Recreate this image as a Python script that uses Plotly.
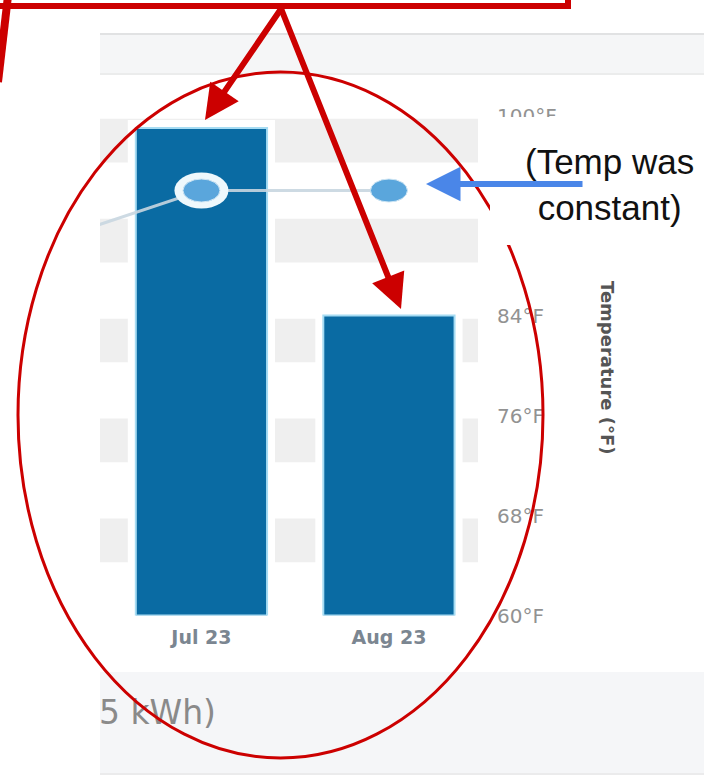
import plotly.graph_objects as go

W, H = 704, 776

# ---- data -------------------------------------------------------------
months = ["Jun 23", "Jul 23", "Aug 23"]
usage_kwh = [None, 975, 600]          # monthly electricity use (left, hidden axis)
temp_f = [89, 94, 94]                 # average monthly temperature
temp_ticks = [60, 68, 76, 84, 100]    # labelled temperature ticks (92°F sits under the note)
temp_tick_text = ["60°F", "68°F", "76°F", "84°F", "100°F"]
temp_range = [60, 100]
temp_step = 8
total_label = "(1,575 kWh)"

BAR_BLUE = "#0a6ba3"
RED = "#cc0000"


def px(x):
    return x / W


def py(y):
    return 1 - y / H


fig = go.Figure()

# white halo behind each bar so the grid bands stop short of it
fig.add_trace(go.Bar(
    x=months, y=usage_kwh, width=0.70,
    marker=dict(color="white", line=dict(color="white", width=16)),
    hoverinfo="skip", showlegend=False,
))
fig.add_trace(go.Bar(
    x=months, y=usage_kwh, width=0.70,
    marker=dict(color=BAR_BLUE, line=dict(color="#a6dcf3", width=2)),
    showlegend=False,
))
fig.add_trace(go.Scatter(
    x=months, y=temp_f, yaxis="y2", mode="lines",
    line=dict(color="rgba(200,214,224,0.9)", width=3),
    showlegend=False,
))

# clipped caption in the footer strip
fig.add_trace(go.Scatter(
    x=[116], y=[0.57], xaxis="x3", yaxis="y3", mode="text",
    text=[total_label], textposition="middle left", cliponaxis=True,
    textfont=dict(family="DejaVu Sans", size=33, color="#8a8a8a"),
    showlegend=False, hoverinfo="skip",
))

shapes = []

# header and footer strips
shapes.append(dict(type="rect", xref="paper", yref="paper", layer="below",
                   x0=px(100), x1=1.01, y0=py(75), y1=py(33),
                   fillcolor="#f5f6f7", line=dict(width=0)))
shapes.append(dict(type="line", xref="paper", yref="paper", layer="below",
                   x0=px(100), x1=1.01, y0=py(34), y1=py(34),
                   line=dict(color="#e1e2e3", width=2)))
shapes.append(dict(type="line", xref="paper", yref="paper", layer="below",
                   x0=px(100), x1=1.01, y0=py(74), y1=py(74),
                   line=dict(color="#e7e8e9", width=1.5)))
shapes.append(dict(type="rect", xref="paper", yref="paper", layer="below",
                   x0=px(100), x1=1.01, y0=py(773), y1=py(672),
                   fillcolor="#f5f6f8", line=dict(width=0)))
shapes.append(dict(type="line", xref="paper", yref="paper", layer="below",
                   x0=px(100), x1=1.01, y0=py(774), y1=py(774),
                   line=dict(color="#e4e5e6", width=1.5)))

# alternating grid bands below each 8°F grid step
for t in range(temp_range[0] + temp_step, temp_range[1] + 1, temp_step):
    shapes.append(dict(type="rect", xref="x domain", yref="y2", layer="below",
                       x0=0, x1=1, y0=t - 3.75, y1=t - 0.25,
                       fillcolor="#efefef", line=dict(width=0)))

# temperature point markers (selected month has a white ring)
for m, t in zip(months, temp_f):
    if m == "Jul 23":
        shapes.append(dict(type="circle", xref="x", yref="y2", layer="above",
                           xsizemode="pixel", ysizemode="pixel",
                           xanchor=m, yanchor=t,
                           x0=-27, x1=27, y0=-18, y1=18,
                           fillcolor="#eef8fc", line=dict(width=0)))
    if m in ("Jul 23", "Aug 23"):
        shapes.append(dict(type="circle", xref="x", yref="y2", layer="above",
                           xsizemode="pixel", ysizemode="pixel",
                           xanchor=m, yanchor=t,
                           x0=-18.5, x1=18.5, y0=-11.5, y1=11.5,
                           fillcolor="#5aa6dc",
                           line=dict(color="#cfe6f4", width=1)))

# callout box, leader line and circle
shapes.append(dict(type="rect", xref="paper", yref="paper", layer="above",
                   x0=px(-30), x1=px(568), y0=py(6), y1=py(-60),
                   fillcolor="white", line=dict(color=RED, width=6)))
shapes.append(dict(type="line", xref="paper", yref="paper", layer="above",
                   x0=px(8), y0=py(-4), x1=px(-2), y1=py(82),
                   line=dict(color=RED, width=8)))
shapes.append(dict(type="circle", xref="paper", yref="paper", layer="above",
                   x0=px(18), x1=px(543), y0=py(758), y1=py(72),
                   line=dict(color=RED, width=3)))
# text box backing behind the note
shapes.append(dict(type="rect", xref="paper", yref="paper", layer="above",
                   x0=px(490), x1=1.01, y0=py(245), y1=py(117),
                   fillcolor="white", line=dict(width=0)))

annotations = [
    dict(xref="paper", yref="paper", x=px(608), y=py(368),
         xanchor="center", yanchor="middle",
         text="Temperature (°F)", textangle=90, showarrow=False,
         font=dict(family="DejaVu Sans", size=18, color="#555555", weight="bold")),
    dict(xref="paper", yref="paper", x=px(609), y=py(184),
         xanchor="center", yanchor="middle",
         text="(Temp was<br>constant)", showarrow=False, align="center",
         font=dict(family="Liberation Sans", size=35, color="#111111")),
    dict(xref="paper", yref="paper", x=px(205), y=py(120), text="",
         showarrow=True, arrowhead=2, arrowsize=1.15, arrowwidth=6,
         arrowcolor=RED, axref="pixel", ayref="pixel", ax=78, ay=-114),
    dict(xref="paper", yref="paper", x=px(401), y=py(309), text="",
         showarrow=True, arrowhead=2, arrowsize=1.15, arrowwidth=6,
         arrowcolor=RED, axref="pixel", ayref="pixel", ax=-121, ay=-303),
    dict(xref="paper", yref="paper", x=px(426), y=py(184), text="",
         showarrow=True, arrowhead=2, arrowsize=1.15, arrowwidth=6,
         arrowcolor="#4a86e8", axref="pixel", ayref="pixel", ax=158, ay=0),
]

fig.update_layout(
    width=W, height=H,
    margin=dict(l=0, r=0, t=0, b=0, pad=0, autoexpand=False),
    paper_bgcolor="white",
    plot_bgcolor="rgba(0,0,0,0)",
    barmode="overlay",
    showlegend=False,
    shapes=shapes,
    annotations=annotations,
    xaxis=dict(
        domain=[px(100), px(478)], type="category",
        categoryorder="array", categoryarray=months,
        range=[0.459, 2.475], showgrid=False, zeroline=False,
        showline=False, ticks="", ticklabelstandoff=8, automargin=False,
        tickfont=dict(family="DejaVu Sans", size=19, color="#7b8691", weight="bold"),
    ),
    yaxis=dict(
        domain=[py(615.5), py(115.5)], range=[0, 1000], visible=False,
        automargin=False,
    ),
    yaxis2=dict(
        overlaying="y", side="right", anchor="x", range=temp_range,
        tickvals=temp_ticks, ticktext=temp_tick_text,
        showgrid=False, zeroline=False, showline=False, ticks="",
        ticklabelstandoff=18, automargin=False,
        tickfont=dict(family="DejaVu Sans", size=20, color="#929292"),
    ),
    xaxis3=dict(domain=[px(100), 1], range=[0, 604], visible=False,
                anchor="y3", automargin=False),
    yaxis3=dict(domain=[py(773), py(672)], range=[0, 1], visible=False,
                anchor="x3", automargin=False),
)

fig.write_html("out.html")
